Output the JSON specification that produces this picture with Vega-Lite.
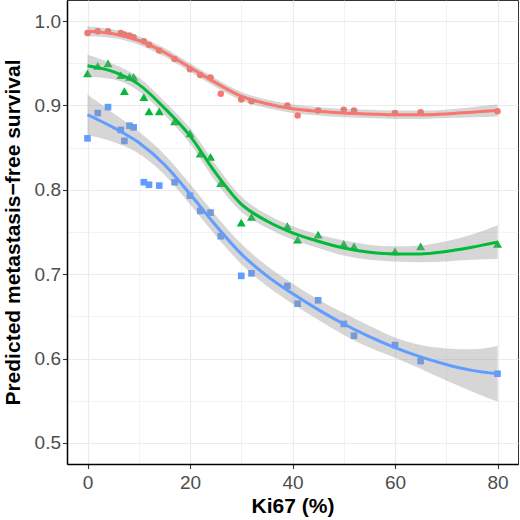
{
  "$schema": "https://vega.github.io/schema/vega-lite/v6.json",
  "autosize": "none",
  "width": 451,
  "height": 464,
  "padding": {"left": 67, "top": 0, "right": 2, "bottom": 56},
  "datasets": {
    "points": [
      {"group": "A", "ki67": 0, "surv": 0.986}, {"group": "B", "ki67": 0, "surv": 0.938}, {"group": "C", "ki67": 0, "surv": 0.861},
      {"group": "A", "ki67": 2, "surv": 0.988}, {"group": "B", "ki67": 2, "surv": 0.947}, {"group": "C", "ki67": 2, "surv": 0.891},
      {"group": "A", "ki67": 4, "surv": 0.988}, {"group": "B", "ki67": 4, "surv": 0.950}, {"group": "C", "ki67": 4, "surv": 0.898},
      {"group": "A", "ki67": 6.5, "surv": 0.986}, {"group": "B", "ki67": 6.5, "surv": 0.936}, {"group": "C", "ki67": 6.5, "surv": 0.871},
      {"group": "A", "ki67": 7.2, "surv": 0.984}, {"group": "B", "ki67": 7.2, "surv": 0.917}, {"group": "C", "ki67": 7.2, "surv": 0.858},
      {"group": "A", "ki67": 8.2, "surv": 0.983}, {"group": "B", "ki67": 8.2, "surv": 0.934}, {"group": "C", "ki67": 8.2, "surv": 0.876},
      {"group": "A", "ki67": 9, "surv": 0.981}, {"group": "B", "ki67": 9, "surv": 0.934}, {"group": "C", "ki67": 9, "surv": 0.874},
      {"group": "A", "ki67": 11, "surv": 0.976}, {"group": "B", "ki67": 11, "surv": 0.910}, {"group": "C", "ki67": 11, "surv": 0.809},
      {"group": "A", "ki67": 12, "surv": 0.972}, {"group": "B", "ki67": 12, "surv": 0.893}, {"group": "C", "ki67": 12, "surv": 0.806},
      {"group": "A", "ki67": 14, "surv": 0.965}, {"group": "B", "ki67": 14, "surv": 0.893}, {"group": "C", "ki67": 14, "surv": 0.805},
      {"group": "A", "ki67": 17, "surv": 0.955}, {"group": "B", "ki67": 17, "surv": 0.881}, {"group": "C", "ki67": 17, "surv": 0.809},
      {"group": "A", "ki67": 20, "surv": 0.943}, {"group": "B", "ki67": 20, "surv": 0.867}, {"group": "C", "ki67": 20, "surv": 0.793},
      {"group": "A", "ki67": 22, "surv": 0.936}, {"group": "B", "ki67": 22, "surv": 0.843}, {"group": "C", "ki67": 22, "surv": 0.775},
      {"group": "A", "ki67": 24, "surv": 0.933}, {"group": "B", "ki67": 24, "surv": 0.839}, {"group": "C", "ki67": 24, "surv": 0.773},
      {"group": "A", "ki67": 26, "surv": 0.914}, {"group": "B", "ki67": 26, "surv": 0.808}, {"group": "C", "ki67": 26, "surv": 0.745},
      {"group": "A", "ki67": 30, "surv": 0.907}, {"group": "B", "ki67": 30, "surv": 0.761}, {"group": "C", "ki67": 30, "surv": 0.698},
      {"group": "A", "ki67": 32, "surv": 0.905}, {"group": "B", "ki67": 32, "surv": 0.768}, {"group": "C", "ki67": 32, "surv": 0.701},
      {"group": "A", "ki67": 39, "surv": 0.900}, {"group": "B", "ki67": 39, "surv": 0.757}, {"group": "C", "ki67": 39, "surv": 0.686},
      {"group": "A", "ki67": 41, "surv": 0.888}, {"group": "B", "ki67": 41, "surv": 0.741}, {"group": "C", "ki67": 41, "surv": 0.665},
      {"group": "A", "ki67": 45, "surv": 0.894}, {"group": "B", "ki67": 45, "surv": 0.747}, {"group": "C", "ki67": 45, "surv": 0.669},
      {"group": "A", "ki67": 50, "surv": 0.895}, {"group": "B", "ki67": 50, "surv": 0.736}, {"group": "C", "ki67": 50, "surv": 0.641},
      {"group": "A", "ki67": 52, "surv": 0.894}, {"group": "B", "ki67": 52, "surv": 0.733}, {"group": "C", "ki67": 52, "surv": 0.627},
      {"group": "A", "ki67": 60, "surv": 0.891}, {"group": "B", "ki67": 60, "surv": 0.727}, {"group": "C", "ki67": 60, "surv": 0.616},
      {"group": "A", "ki67": 65, "surv": 0.892}, {"group": "B", "ki67": 65, "surv": 0.733}, {"group": "C", "ki67": 65, "surv": 0.597},
      {"group": "A", "ki67": 80, "surv": 0.893}, {"group": "B", "ki67": 80, "surv": 0.736}, {"group": "C", "ki67": 80, "surv": 0.582}
    ],
    "fits": [
      {"group": "A", "ki67": 0, "fit": 0.988, "lo": 0.982, "hi": 0.994},
      {"group": "A", "ki67": 5, "fit": 0.985, "lo": 0.980, "hi": 0.990},
      {"group": "A", "ki67": 10, "fit": 0.977, "lo": 0.972, "hi": 0.982},
      {"group": "A", "ki67": 15, "fit": 0.963, "lo": 0.958, "hi": 0.968},
      {"group": "A", "ki67": 20, "fit": 0.945, "lo": 0.940, "hi": 0.950},
      {"group": "A", "ki67": 25, "fit": 0.927, "lo": 0.922, "hi": 0.932},
      {"group": "A", "ki67": 30, "fit": 0.911, "lo": 0.906, "hi": 0.916},
      {"group": "A", "ki67": 35, "fit": 0.902, "lo": 0.897, "hi": 0.907},
      {"group": "A", "ki67": 40, "fit": 0.896, "lo": 0.891, "hi": 0.901},
      {"group": "A", "ki67": 45, "fit": 0.893, "lo": 0.888, "hi": 0.898},
      {"group": "A", "ki67": 50, "fit": 0.891, "lo": 0.886, "hi": 0.896},
      {"group": "A", "ki67": 55, "fit": 0.890, "lo": 0.885, "hi": 0.895},
      {"group": "A", "ki67": 60, "fit": 0.889, "lo": 0.884, "hi": 0.894},
      {"group": "A", "ki67": 65, "fit": 0.889, "lo": 0.884, "hi": 0.894},
      {"group": "A", "ki67": 70, "fit": 0.890, "lo": 0.885, "hi": 0.895},
      {"group": "A", "ki67": 75, "fit": 0.892, "lo": 0.886, "hi": 0.898},
      {"group": "A", "ki67": 80, "fit": 0.894, "lo": 0.887, "hi": 0.901},
      {"group": "B", "ki67": 0, "fit": 0.947, "lo": 0.934, "hi": 0.960},
      {"group": "B", "ki67": 5, "fit": 0.940, "lo": 0.931, "hi": 0.949},
      {"group": "B", "ki67": 10, "fit": 0.925, "lo": 0.917, "hi": 0.933},
      {"group": "B", "ki67": 15, "fit": 0.897, "lo": 0.889, "hi": 0.905},
      {"group": "B", "ki67": 20, "fit": 0.864, "lo": 0.855, "hi": 0.873},
      {"group": "B", "ki67": 25, "fit": 0.820, "lo": 0.810, "hi": 0.830},
      {"group": "B", "ki67": 30, "fit": 0.783, "lo": 0.774, "hi": 0.792},
      {"group": "B", "ki67": 35, "fit": 0.763, "lo": 0.755, "hi": 0.771},
      {"group": "B", "ki67": 40, "fit": 0.749, "lo": 0.741, "hi": 0.757},
      {"group": "B", "ki67": 45, "fit": 0.739, "lo": 0.731, "hi": 0.747},
      {"group": "B", "ki67": 50, "fit": 0.731, "lo": 0.722, "hi": 0.740},
      {"group": "B", "ki67": 55, "fit": 0.726, "lo": 0.717, "hi": 0.735},
      {"group": "B", "ki67": 60, "fit": 0.724, "lo": 0.715, "hi": 0.733},
      {"group": "B", "ki67": 65, "fit": 0.724, "lo": 0.714, "hi": 0.734},
      {"group": "B", "ki67": 70, "fit": 0.727, "lo": 0.715, "hi": 0.739},
      {"group": "B", "ki67": 75, "fit": 0.732, "lo": 0.717, "hi": 0.747},
      {"group": "B", "ki67": 80, "fit": 0.738, "lo": 0.718, "hi": 0.758},
      {"group": "C", "ki67": 0, "fit": 0.889, "lo": 0.865, "hi": 0.913},
      {"group": "C", "ki67": 5, "fit": 0.874, "lo": 0.857, "hi": 0.891},
      {"group": "C", "ki67": 10, "fit": 0.856, "lo": 0.843, "hi": 0.869},
      {"group": "C", "ki67": 15, "fit": 0.830, "lo": 0.818, "hi": 0.842},
      {"group": "C", "ki67": 20, "fit": 0.795, "lo": 0.783, "hi": 0.807},
      {"group": "C", "ki67": 25, "fit": 0.758, "lo": 0.746, "hi": 0.770},
      {"group": "C", "ki67": 30, "fit": 0.724, "lo": 0.712, "hi": 0.736},
      {"group": "C", "ki67": 35, "fit": 0.698, "lo": 0.686, "hi": 0.710},
      {"group": "C", "ki67": 40, "fit": 0.677, "lo": 0.665, "hi": 0.689},
      {"group": "C", "ki67": 45, "fit": 0.658, "lo": 0.646, "hi": 0.670},
      {"group": "C", "ki67": 50, "fit": 0.641, "lo": 0.628, "hi": 0.654},
      {"group": "C", "ki67": 55, "fit": 0.626, "lo": 0.613, "hi": 0.639},
      {"group": "C", "ki67": 60, "fit": 0.613, "lo": 0.601, "hi": 0.625},
      {"group": "C", "ki67": 65, "fit": 0.602, "lo": 0.588, "hi": 0.616},
      {"group": "C", "ki67": 70, "fit": 0.593, "lo": 0.574, "hi": 0.612},
      {"group": "C", "ki67": 75, "fit": 0.586, "lo": 0.561, "hi": 0.611},
      {"group": "C", "ki67": 80, "fit": 0.582, "lo": 0.549, "hi": 0.615}
    ]
  },
  "encoding": {
    "x": {
      "field": "ki67",
      "type": "quantitative",
      "title": "Ki67 (%)",
      "scale": {"domain": [-4, 84], "nice": false, "zero": false},
      "axis": {
        "values": [0, 10, 20, 30, 40, 50, 60, 70, 80],
        "labelExpr": "datum.value % 20 === 0 ? datum.label : ''",
        "gridWidth": {"condition": {"test": "datum.value % 20 === 0", "value": 1.2}, "value": 0.6},
        "tickOpacity": {"condition": {"test": "datum.value % 20 === 0", "value": 1}, "value": 0},
        "labelPadding": 5,
        "titlePadding": 3
      }
    }
  },
  "layer": [
    {
      "data": {"name": "points"},
      "mark": {"type": "point", "filled": true, "opacity": 1},
      "encoding": {
        "y": {
          "field": "surv",
          "type": "quantitative",
          "title": "Predicted metastasis−free survival",
          "scale": {"domain": [0.475, 1.025], "nice": false, "zero": false},
          "axis": {
            "values": [0.5, 0.55, 0.6, 0.65, 0.7, 0.75, 0.8, 0.85, 0.9, 0.95, 1.0],
            "format": ".1f",
            "labelExpr": "round(datum.value * 100) % 10 === 0 ? datum.label : ''",
            "gridWidth": {"condition": {"test": "round(datum.value * 100) % 10 === 0", "value": 1.2}, "value": 0.6},
            "tickOpacity": {"condition": {"test": "round(datum.value * 100) % 10 === 0", "value": 1}, "value": 0},
            "labelPadding": 2,
            "titlePadding": 11
          }
        },
        "color": {
          "field": "group",
          "type": "nominal",
          "scale": {"domain": ["A", "B", "C"], "range": ["#F8766D", "#00BA38", "#619CFF"]},
          "legend": null
        },
        "shape": {
          "field": "group",
          "type": "nominal",
          "scale": {"domain": ["A", "B", "C"], "range": ["circle", "triangle-up", "square"]},
          "legend": null
        },
        "size": {
          "field": "group",
          "type": "nominal",
          "scale": {"type": "ordinal", "domain": ["A", "B", "C"], "range": [42, 80, 44]},
          "legend": null
        }
      }
    },
    {
      "data": {"name": "fits"},
      "mark": {"type": "area", "color": "#999999", "opacity": 0.4, "interpolate": "monotone"},
      "encoding": {
        "y": {
          "field": "lo",
          "type": "quantitative",
          "title": "Predicted metastasis−free survival",
          "scale": {"domain": [0.475, 1.025], "nice": false, "zero": false}
        },
        "y2": {"field": "hi"},
        "detail": {"field": "group"}
      }
    },
    {
      "data": {"name": "fits"},
      "mark": {"type": "line", "strokeWidth": 3, "interpolate": "monotone"},
      "encoding": {
        "y": {
          "field": "fit",
          "type": "quantitative",
          "title": "Predicted metastasis−free survival",
          "scale": {"domain": [0.475, 1.025], "nice": false, "zero": false}
        },
        "color": {
          "field": "group",
          "type": "nominal",
          "scale": {"domain": ["A", "B", "C"], "range": ["#F8766D", "#00BA38", "#619CFF"]},
          "legend": null
        }
      }
    }
  ],
  "config": {
    "view": {"stroke": "#333333", "strokeWidth": 1},
    "axis": {
      "domainColor": "#000000",
      "domainWidth": 1.5,
      "gridColor": "#EBEBEB",
      "tickColor": "#333333",
      "tickWidth": 1.1,
      "tickSize": 4.5,
      "labelFont": "Liberation Sans",
      "labelFontSize": 19,
      "labelColor": "#4D4D4D",
      "labelOverlap": false,
      "titleFont": "Liberation Sans",
      "titleFontSize": 21,
      "titleFontWeight": "bold",
      "titleColor": "#000000"
    }
  }
}
